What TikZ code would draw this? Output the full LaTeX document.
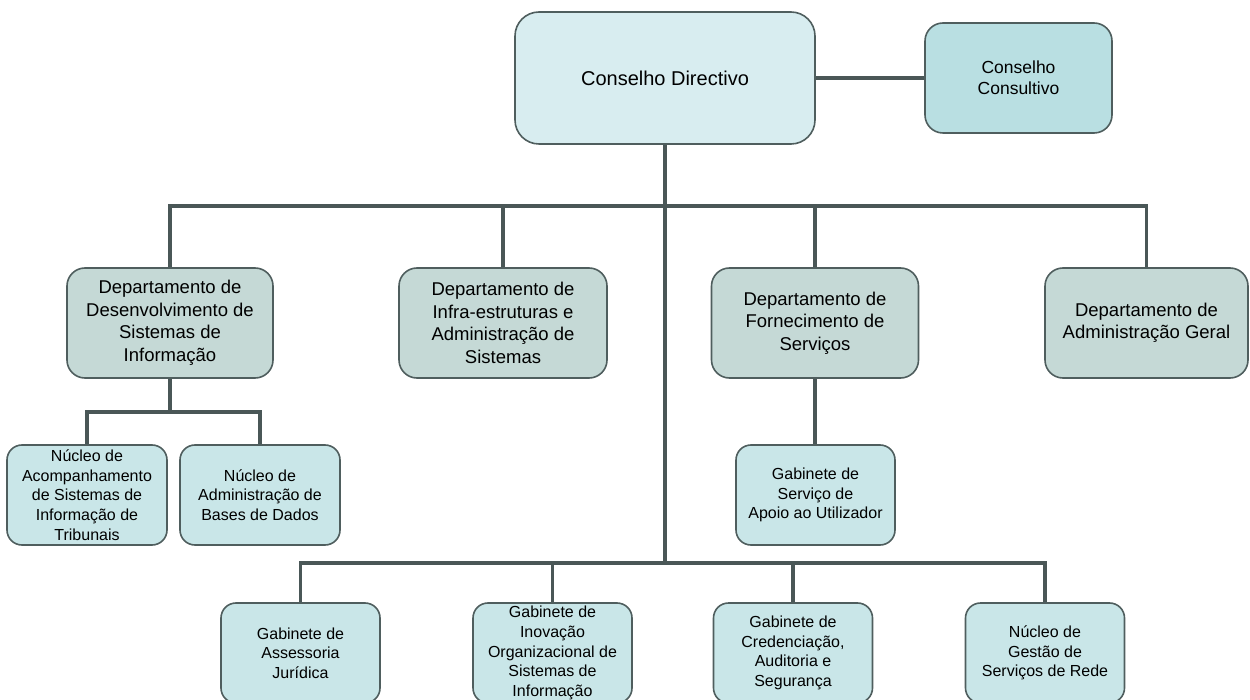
\documentclass[tikz,border=0pt]{standalone}
\usepackage{fontspec}
\setmainfont{Liberation Sans}
\usetikzlibrary{backgrounds}
\definecolor{linecol}{HTML}{4A5757}
\definecolor{bordercol}{HTML}{4F5E5E}
\definecolor{dirfill}{HTML}{D8EDF0}
\definecolor{consfill}{HTML}{B9DFE2}
\definecolor{depfill}{HTML}{C5D9D6}
\definecolor{unitfill}{HTML}{C9E6E8}
\tikzset{
  box/.style={rectangle, draw=bordercol, line width=1.6pt, align=center, inner sep=0pt, text=black},
  dirbox/.style={box, fill=dirfill, rounded corners=24pt, minimum width=300pt, minimum height=132pt,
    font=\fontsize{20}{24}\selectfont},
  consbox/.style={box, fill=consfill, rounded corners=18pt, minimum width=187pt, minimum height=110pt,
    font=\fontsize{17.5}{21}\selectfont},
  depbox/.style={box, fill=depfill, rounded corners=18pt, minimum height=110pt,
    font=\fontsize{18.5}{22.5}\selectfont},
  unitbox/.style={box, fill=unitfill, rounded corners=15pt, minimum width=159pt, minimum height=100pt,
    font=\fontsize{16}{19.6}\selectfont},
  conn/.style={draw=linecol, line width=3.5pt, line cap=rect, line join=miter}
}
\begin{document}
\begin{tikzpicture}[x=1pt,y=-1pt]
\useasboundingbox (0,0) rectangle (1250,700);
% top level
\node[dirbox] (dir) at (665,78) {Conselho Directivo};
\node[consbox] (cons) at (1018.5,78) {Conselho\\Consultivo};
% departments
\node[depbox, minimum width=206pt] (dsi) at (170,323) {Departamento de\\Desenvolvimento de\\Sistemas de\\Informação};
\node[depbox, minimum width=208pt] (infra) at (503,323) {Departamento de\\Infra-estruturas e\\Administração de\\Sistemas};
\node[depbox, minimum width=207pt] (forn) at (815,323) {Departamento de\\Fornecimento de\\Serviços};
\node[depbox, minimum width=203pt] (adm) at (1146.5,323) {Departamento de\\Administração Geral};
% units under departments
\node[unitbox, minimum width=160pt] (nacomp) at (87,495) {Núcleo de\\Acompanhamento\\de Sistemas de\\Informação de\\Tribunais};
\node[unitbox, minimum width=160pt] (nbd) at (260,495) {Núcleo de\\Administração de\\Bases de Dados};
\node[unitbox] (gsau) at (815.5,495) {Gabinete de\\Serviço de\\Apoio ao Utilizador};
% bottom units
\node[unitbox] (gaj) at (300.5,653) {Gabinete de\\Assessoria\\Jurídica};
\node[unitbox] (gio) at (552.5,653) {Gabinete de\\Inovação\\Organizacional de\\Sistemas de\\Informação};
\node[unitbox] (gcas) at (793,653) {Gabinete de\\Credenciação,\\Auditoria e\\Segurança};
\node[unitbox] (ngsr) at (1045,653) {Núcleo de\\Gestão de\\Serviços de Rede};
% junction coordinates
\coordinate (topbus) at (665,206);
\coordinate (botbus) at (665,563);
\coordinate (dsibus) at (170,412);
\begin{pgfonlayer}{background}
\draw[conn] (dir.east) -- (cons.west);
\draw[conn] (dir.south) -- (botbus);
\draw[conn] (dsi.north) |- (adm.north |- topbus) -- (adm.north);
\draw[conn] (infra.north) -- (infra.north |- topbus);
\draw[conn] (forn.north) -- (forn.north |- topbus);
\draw[conn] (gaj.north) |- (ngsr.north |- botbus) -- (ngsr.north);
\draw[conn] (gio.north) -- (gio.north |- botbus);
\draw[conn] (gcas.north) -- (gcas.north |- botbus);
\draw[conn] (dsi.south) -- (dsibus);
\draw[conn] (nacomp.north) |- (nbd.north |- dsibus) -- (nbd.north);
\draw[conn] (forn.south) -- (forn.south |- gsau.north);
\end{pgfonlayer}
\end{tikzpicture}
\end{document}
